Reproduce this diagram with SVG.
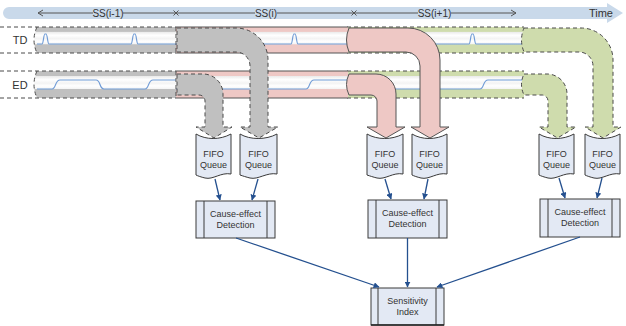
<svg xmlns="http://www.w3.org/2000/svg" width="626" height="326" viewBox="0 0 626 326">
  <style>
    .lbl { font-family: "Liberation Sans", Arial, sans-serif; fill: #333; }
    .t9 { font-size: 9px; text-anchor: middle; }
    .t10 { font-size: 10px; text-anchor: middle; }
    .t11 { font-size: 11px; }
    .dash { stroke: #4a4a4a; stroke-width: 1; stroke-dasharray: 4 3; }
    .solid { stroke: #555; stroke-width: 1; }
    .open { fill: none; }
    .fgray { fill: #c0c0c0; }
    .fpink { fill: #eec8c5; }
    .fgreen { fill: #cfdcad; }
    .sig { stroke: #6f9bd6; stroke-width: 1.2; fill: none; }
    .box { fill: #e3e9f4; stroke: #3a3a3a; stroke-width: 1; }
    .inner { stroke: #3a3a3a; stroke-width: 1; }
    .link { stroke: #24508f; stroke-width: 1.3; fill: none; marker-end: url(#head); }
    .tick { stroke: #555; stroke-width: 1; fill: none; }
  </style>
  <defs>
    <marker id="head" viewBox="0 0 10 10" refX="9" refY="5" markerWidth="6" markerHeight="6" orient="auto" markerUnits="userSpaceOnUse">
      <path d="M0,0 L10,5 L0,10 Z" fill="#24508f"/>
    </marker>
    <linearGradient id="gGray" x1="0" y1="0" x2="0" y2="1">
      <stop offset="0" stop-color="#c0c0c0"/>
      <stop offset="0.17" stop-color="#c0c0c0"/>
      <stop offset="0.2" stop-color="#ececec"/>
      <stop offset="0.32" stop-color="#ffffff"/>
      <stop offset="0.45" stop-color="#f3f3f3"/>
      <stop offset="0.55" stop-color="#ffffff"/>
      <stop offset="0.65" stop-color="#f5f5f5"/>
      <stop offset="0.68" stop-color="#c0c0c0"/>
      <stop offset="1" stop-color="#c0c0c0"/>
    </linearGradient>
    <linearGradient id="gPink" x1="0" y1="0" x2="0" y2="1">
      <stop offset="0" stop-color="#eec8c5"/>
      <stop offset="0.17" stop-color="#eec8c5"/>
      <stop offset="0.2" stop-color="#ececec"/>
      <stop offset="0.32" stop-color="#ffffff"/>
      <stop offset="0.45" stop-color="#f3f3f3"/>
      <stop offset="0.55" stop-color="#ffffff"/>
      <stop offset="0.65" stop-color="#f5f5f5"/>
      <stop offset="0.68" stop-color="#eec8c5"/>
      <stop offset="1" stop-color="#eec8c5"/>
    </linearGradient>
    <linearGradient id="gGreen" x1="0" y1="0" x2="0" y2="1">
      <stop offset="0" stop-color="#cfdcad"/>
      <stop offset="0.17" stop-color="#cfdcad"/>
      <stop offset="0.2" stop-color="#ececec"/>
      <stop offset="0.32" stop-color="#ffffff"/>
      <stop offset="0.45" stop-color="#f3f3f3"/>
      <stop offset="0.55" stop-color="#ffffff"/>
      <stop offset="0.65" stop-color="#f5f5f5"/>
      <stop offset="0.68" stop-color="#cfdcad"/>
      <stop offset="1" stop-color="#cfdcad"/>
    </linearGradient>
  </defs>

  <rect width="626" height="326" fill="#ffffff"/>

  <!-- time axis -->
  <g id="time-axis">
    <path d="M9,7 H607 V3 L623,13 L607,23 V19 H9 A6,6 0 0 1 9,7 Z" fill="#c9d9ea"/>
    <path class="tick" d="M38,13 H93 M123,13 H255 M277,13 H418 M451,13 H516"/>
    <path class="tick" d="M43,10 L38,13 L43,16 M511,10 L516,13 L511,16"/>
    <path class="tick" d="M173.5,10.5 L178.5,15.5 M178.5,10.5 L173.5,15.5 M351.5,10.5 L356.5,15.5 M356.5,10.5 L351.5,15.5"/>
    <text class="lbl t10" x="108" y="17">SS(i-1)</text>
    <text class="lbl t10" x="266" y="17">SS(i)</text>
    <text class="lbl t10" x="434.5" y="17">SS(i+1)</text>
    <text class="lbl t11" x="613" y="17" text-anchor="end">Time</text>
  </g>

  <!-- row labels -->
  <text class="lbl t11" x="20" y="44" text-anchor="middle">TD</text>
  <text class="lbl t11" x="20" y="89" text-anchor="middle">ED</text>

  <!-- processing nodes: FIFO queues -->
  <g id="fifo-1">
    <path class="box" d="M196,134 C206,140 220,140 231,134 V174 C221,172 213,180 205,178 C201,177 198,176 196,175 Z"/>
    <text class="lbl t9" x="213.5" y="157">FIFO</text>
    <text class="lbl t9" x="213.5" y="168">Queue</text>
  </g>
  <g id="fifo-2">
    <path class="box" d="M240,134 C250,140 266,140 277,134 V174 C267,172 258,180 250,178 C246,177 243,176 240,175 Z"/>
    <text class="lbl t9" x="258.5" y="157">FIFO</text>
    <text class="lbl t9" x="258.5" y="168">Queue</text>
  </g>
  <g id="fifo-3">
    <path class="box" d="M367,134 C377,140 392,140 403,134 V174 C393,172 385,180 377,178 C373,177 370,176 367,175 Z"/>
    <text class="lbl t9" x="385" y="157">FIFO</text>
    <text class="lbl t9" x="385" y="168">Queue</text>
  </g>
  <g id="fifo-4">
    <path class="box" d="M412,134 C422,140 436,140 447,134 V174 C437,172 429,180 421,178 C417,177 414,176 412,175 Z"/>
    <text class="lbl t9" x="429.5" y="157">FIFO</text>
    <text class="lbl t9" x="429.5" y="168">Queue</text>
  </g>
  <g id="fifo-5">
    <path class="box" d="M539,134 C549,140 563,140 574,134 V174 C564,172 556,180 548,178 C544,177 541,176 539,175 Z"/>
    <text class="lbl t9" x="556.5" y="157">FIFO</text>
    <text class="lbl t9" x="556.5" y="168">Queue</text>
  </g>
  <g id="fifo-6">
    <path class="box" d="M585,134 C595,140 609,140 620,134 V174 C610,172 602,180 594,178 C590,177 587,176 585,175 Z"/>
    <text class="lbl t9" x="602.5" y="157">FIFO</text>
    <text class="lbl t9" x="602.5" y="168">Queue</text>
  </g>

  <!-- data streams: horizontal pipes, back to front -->
  <g id="streams">
    <!-- SS(i+1) pipes -->
    <g id="pipe-green">
      <rect x="347" y="27" width="177" height="26" fill="url(#gGreen)"/>
      <rect x="347" y="71" width="177" height="27" fill="url(#gGreen)"/>
      <path class="sig" d="M347,44 H469 C470.5,44 470.5,34 472,34 H473 C474.5,34 474.5,44 476,44 H524"/>
      <path class="sig" d="M347,89 H480 C484,89 483,80 488,80 H524"/>
      <path class="dash open" d="M347,27 H524 M347,53 H524 M347,71 H524 M347,98 H524"/>
    </g>
    <!-- SS(i) pipes -->
    <g id="pipe-pink">
      <rect x="176" y="27" width="172" height="26" fill="url(#gPink)"/>
      <rect x="176" y="71" width="172" height="27" fill="url(#gPink)"/>
      <path class="sig" d="M176,44 H291 C292.5,44 292.5,34 294,34 H295 C296.5,34 296.5,44 298,44 H348"/>
      <path class="sig" d="M176,89 H306 C310,89 309,80 314,80 H348"/>
      <path class="solid open" d="M176,27 H348 M176,53 H348 M176,71 H348 M176,98 H348"/>
    </g>
    <!-- SS(i-1) pipes -->
    <g id="pipe-gray">
      <path d="M37,27 H176 V53 H37 Q31,40 37,27 Z" fill="url(#gGray)"/>
      <path d="M37,71 H176 V98 H37 Q31,84.5 37,71 Z" fill="url(#gGray)"/>
      <path class="sig" d="M37,44 H42 C43.5,44 43.5,34 45,34 H46 C47.5,34 47.5,44 49,44 H131 C132.5,44 132.5,34 134,34 H135 C136.5,34 136.5,44 138,44 H176"/>
      <path class="sig" d="M37,89 H52 C56,89 55,80 60,80 H96 C101,80 99,89 104,89 H145 C149,89 148,80 153,80 H176"/>
      <path class="dash open" d="M0,27 H176 M0,53 H176 M0,71 H176 M0,98 H176 M37,27 Q31,40 37,53 M37,71 Q31,84.5 37,98 M176,27 V53 M176,71 V98"/>
    </g>

    <!-- elbows turning down into the queues -->
    <g id="elbow-green">
      <path class="dash fgreen" d="M524,28 H581 A32,32 0 0 1 613,60 V127 H621 L603,138 L585,127 H593 V66 A14,14 0 0 0 579,52 H524 Q519,40 524,28 Z"/>
      <path class="dash fgreen" d="M524,74 H547 A20,20 0 0 1 567,94 V127 H576 L557.5,138 L539,127 H548 V101 A6,6 0 0 0 542,95 H524 Q519,84.5 524,74 Z"/>
    </g>
    <g id="elbow-pink">
      <path class="solid fpink" d="M349,28 H408 A32,32 0 0 1 440,60 V127 H449 L430,138 L411,127 H420 V66 A14,14 0 0 0 406,52 H349 Q344,40 349,28 Z"/>
      <path class="solid fpink" d="M349,74 H376 A20,20 0 0 1 396,94 V127 H405 L386,138 L367,127 H377 V101 A6,6 0 0 0 371,95 H349 Q344,84.5 349,74 Z"/>
    </g>
    <g id="elbow-gray">
      <path class="dash fgray" d="M177,28 H236 A32,32 0 0 1 268,60 V127 H278 L259,138 L240,127 H250 V66 A14,14 0 0 0 236,52 H177 Z"/>
      <path class="dash fgray" d="M177,74 H203 A20,20 0 0 1 223,94 V127 H232 L214,138 L196,127 H205 V101 A6,6 0 0 0 199,95 H177 Z"/>
    </g>
  </g>

  <!-- detection nodes -->
  <g id="detect-1">
    <rect class="box" x="196" y="201" width="79" height="37"/>
    <path class="inner" d="M204,201 V238 M267,201 V238"/>
    <text class="lbl t9" x="235.5" y="217">Cause-effect</text>
    <text class="lbl t9" x="235.5" y="228">Detection</text>
  </g>
  <g id="detect-2">
    <rect class="box" x="368" y="200" width="79" height="38"/>
    <path class="inner" d="M376,200 V238 M439,200 V238"/>
    <text class="lbl t9" x="407.5" y="216">Cause-effect</text>
    <text class="lbl t9" x="407.5" y="227">Detection</text>
  </g>
  <g id="detect-3">
    <rect class="box" x="540" y="199" width="80" height="38"/>
    <path class="inner" d="M548,199 V237 M612,199 V237"/>
    <text class="lbl t9" x="580" y="215">Cause-effect</text>
    <text class="lbl t9" x="580" y="226">Detection</text>
  </g>
  <g id="sensitivity">
    <rect class="box" x="371" y="288" width="73" height="37"/>
    <path class="inner" d="M378,288 V325 M436,288 V325"/>
    <path d="M371,325 H444" stroke="#222" stroke-width="1.5"/>
    <text class="lbl t9" x="407.5" y="304">Sensitivity</text>
    <text class="lbl t9" x="407.5" y="315">Index</text>
  </g>

  <!-- connectors -->
  <g id="connectors">
    <path class="link" d="M215,179 L220,200"/>
    <path class="link" d="M258,179 L252,200"/>
    <path class="link" d="M385,179 L391,199"/>
    <path class="link" d="M428,179 L424,199"/>
    <path class="link" d="M559,178 L565,198"/>
    <path class="link" d="M602,178 L597,198"/>
    <path class="link" d="M236,238 L379,287"/>
    <path class="link" d="M407.5,238 V287"/>
    <path class="link" d="M580,237 L437,287"/>
  </g>
</svg>
